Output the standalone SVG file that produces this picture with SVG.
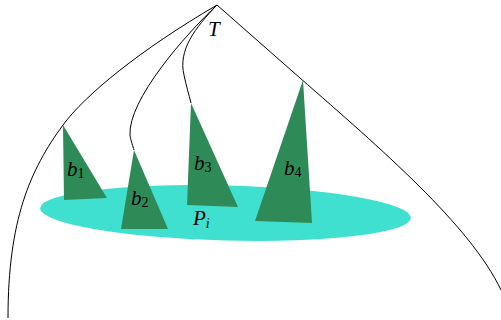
<svg xmlns="http://www.w3.org/2000/svg" width="501" height="320" viewBox="0 0 501 320">
<style>
.edge{fill:none;stroke:#000;stroke-width:1}
.tri{fill:#2E8B57}
.lbl{font-family:"Liberation Serif","DejaVu Serif",serif;font-style:italic;font-size:21px;fill:#000}
.sub{font-size:14px;font-style:normal}
.subi{font-size:14px}
</style>
<rect width="501" height="320" fill="#fff"/>
<g id="connectors">
<path class="edge" d="M217,5 L300,78 C380,148 470,225 501,290"/>
<path class="edge" d="M217,5 C140,50 85,95 63,125 C30,170 8,220 8,318"/>
<path class="edge" d="M217,5 C185,35 128,100 130,135 C131,142 133,146 134,150"/>
<path class="edge" d="M217,5 C195,28 178,50 184,75 C186,85 189,95 191,103"/>
</g>
<g id="Pi">
<ellipse cx="225.5" cy="213" rx="185.5" ry="27.5" transform="rotate(1.5 225.5 213)" fill="#40E0D0"/>
<text class="lbl" x="193" y="225">P<tspan class="subi" dy="3">i</tspan></text>
</g>
<g id="b1">
<polygon class="tri" points="63,125 64,200 107,198"/>
<text class="lbl" x="67" y="176">b<tspan class="sub" dy="2">1</tspan></text>
</g>
<g id="b2">
<polygon class="tri" points="134,150 121,229 168,229"/>
<text class="lbl" x="131" y="205">b<tspan class="sub" dy="2">2</tspan></text>
</g>
<g id="b3">
<polygon class="tri" points="191,103 187,205 238,207"/>
<text class="lbl" x="194" y="170">b<tspan class="sub" dy="2">3</tspan></text>
</g>
<g id="b4">
<polygon class="tri" points="303,80 255,221 312,223"/>
<text class="lbl" x="284" y="175">b<tspan class="sub" dy="2">4</tspan></text>
</g>
<g id="T">
<text class="lbl" x="208" y="36">T</text>
</g>
</svg>
